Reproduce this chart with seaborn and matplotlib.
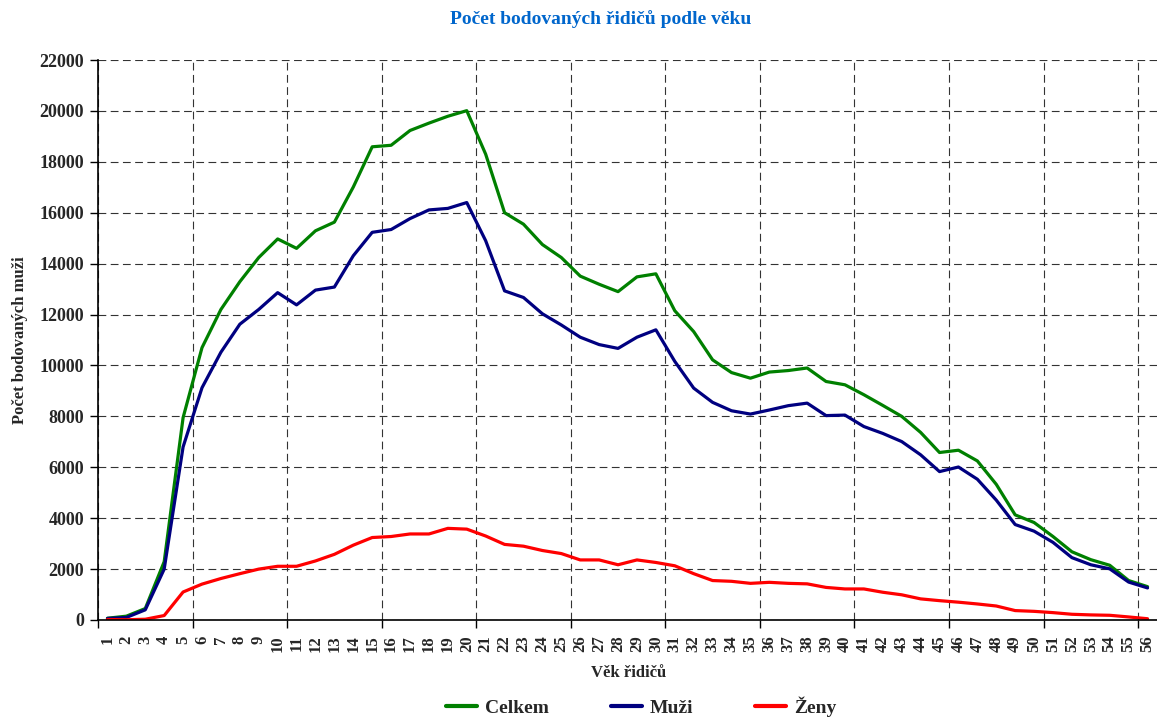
import pandas as pd
import matplotlib
matplotlib.use('Agg')
import matplotlib.pyplot as plt
import seaborn as sns

# Věk řidičů (kategorie) a počty bodovaných řidičů
vek = list(range(1, 57))
celkem = [70, 150, 450, 2290, 7950, 10700, 12200, 13290, 14240, 14970,
          14600, 15290, 15630, 17010, 18590, 18650, 19230, 19520, 19790, 20010,
          18300, 16000, 15550, 14750, 14240, 13510, 13190, 12900, 13480, 13600,
          12150, 11330, 10220, 9720, 9500, 9740, 9800, 9900, 9370, 9240,
          8850, 8430, 8000, 7370, 6580, 6670, 6250, 5330, 4130, 3830,
          3280, 2680, 2370, 2150, 1550, 1310]
muzi = [60, 100, 400, 2000, 6800, 9125, 10520, 11620, 12200, 12860,
        12380, 12960, 13080, 14310, 15230, 15340, 15770, 16110, 16170, 16400,
        14900, 12930, 12670, 12030, 11590, 11110, 10820, 10670, 11110, 11400,
        10160, 9110, 8550, 8220, 8090, 8250, 8420, 8520, 8030, 8050,
        7600, 7330, 7010, 6490, 5830, 6010, 5530, 4710, 3750, 3490,
        3050, 2450, 2170, 2010, 1490, 1260]
zeny = [20, 10, 30, 175, 1100, 1410, 1630, 1820, 2000, 2110,
        2110, 2320, 2580, 2940, 3240, 3280, 3380, 3380, 3600, 3570,
        3300, 2970, 2900, 2730, 2610, 2360, 2360, 2170, 2360, 2260,
        2130, 1820, 1550, 1520, 1440, 1480, 1440, 1420, 1280, 1220,
        1220, 1090, 990, 830, 760, 700, 630, 550, 370, 340,
        290, 225, 200, 185, 120, 50]

y_ticks = list(range(0, 22001, 2000))

df = pd.DataFrame({'vek': vek, 'Celkem': celkem, 'Muži': muzi, 'Ženy': zeny})
df_long = df.melt(id_vars='vek', var_name='skupina', value_name='pocet')

sns.set_theme(style='white')
plt.rcParams['font.family'] = ['Liberation Serif', 'DejaVu Serif']
plt.rcParams['font.weight'] = 'bold'

fig = plt.figure(figsize=(11.57, 7.2), dpi=100)
ax = fig.add_axes([98 / 1157, 100 / 720, 1 - 98 / 1157, 560 / 720])

palette = {'Celkem': '#008000', 'Muži': '#000080', 'Ženy': '#FF0000'}
sns.lineplot(data=df_long, x='vek', y='pocet', hue='skupina', palette=palette,
             linewidth=2.3, ax=ax, legend=False)

ax.set_xlim(0.5, 56.5)
ax.set_ylim(0, 22000)

# hlavní značky mezi kategoriemi, popisky u každé kategorie
ax.set_xticks([0.5 + 5 * k for k in range(12)])
ax.set_xticklabels([])
ax.set_xticks(vek, minor=True)
ax.set_xticklabels([str(v) for v in vek], minor=True, rotation=90,
                   fontsize=12, fontweight='bold', va='top')
ax.tick_params(axis='x', which='major', length=6, width=1, color='black',
               direction='out', bottom=True)
ax.tick_params(axis='x', which='minor', length=0, pad=11)

ax.set_yticks(y_ticks)
ax.set_yticklabels([str(v) for v in y_ticks], fontsize=13, fontweight='bold')
ax.tick_params(axis='y', length=6, width=1, color='black', direction='out',
               left=True, pad=4)

ax.grid(True, which='major', color='#333333', linestyle=(0, (7, 4)), linewidth=0.8)
ax.set_axisbelow(True)

for side in ['top', 'right']:
    ax.spines[side].set_visible(False)
for side in ['left', 'bottom']:
    ax.spines[side].set_color('black')
    ax.spines[side].set_linewidth(1.2)

ax.set_xlabel('')
ax.set_ylabel('')

fig.text(601 / 1157, 1 - 19 / 720, 'Počet bodovaných řidičů podle věku',
         ha='center', va='center', fontsize=14, fontweight='bold', color='#0066CC')
fig.text(20 / 1157, 1 - 340 / 720, 'Počet bodovaných muži', rotation=90,
         ha='center', va='center', fontsize=12, fontweight='bold')
fig.text(629 / 1157, 1 - 673 / 720, 'Věk řidičů', ha='center', va='center',
         fontsize=12, fontweight='bold')

handles = [plt.Line2D([], [], color=palette[k], linewidth=3) for k in ['Celkem', 'Muži', 'Ženy']]
fig.legend(handles, ['Celkem', 'Muži', 'Ženy'], loc='center', ncol=3,
           bbox_to_anchor=(641 / 1157, 1 - 707 / 720), frameon=False,
           prop={'size': 14, 'weight': 'bold'}, handlelength=1.6,
           handletextpad=0.4, columnspacing=3.2)

fig.savefig('out.png', dpi=100)
